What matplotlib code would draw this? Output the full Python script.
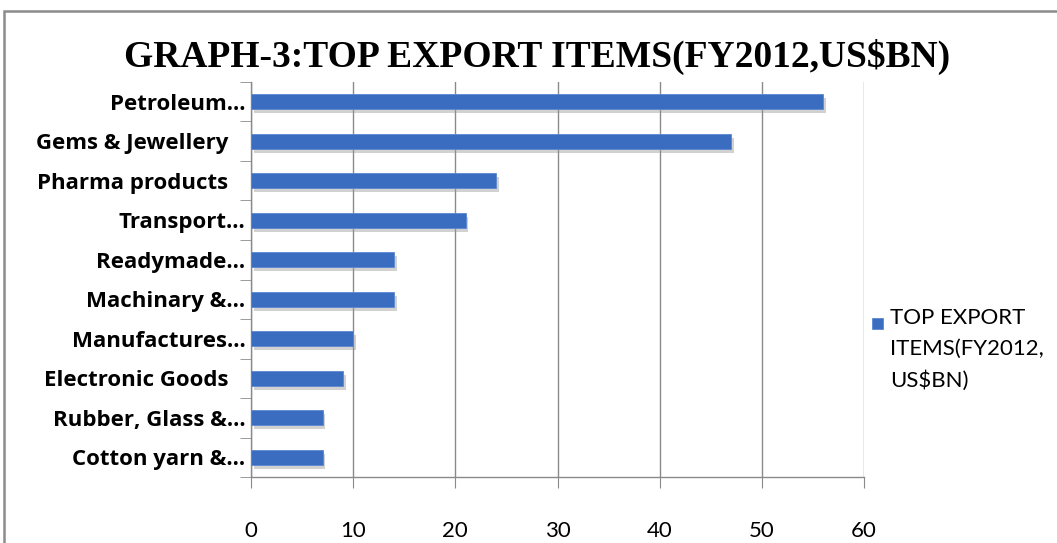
# Top export items bar chart (FY2012, US$ BN)
import matplotlib.pyplot as plt
import matplotlib.patheffects as pe
from matplotlib.patches import Rectangle
import numpy as np

# ── DATA ──────────────────────────────────────────────
items = ["Petroleum...", "Gems & Jewellery   ", "Pharma products   ", "Transport...",
         "Readymade...", "Machinary &...", "Manufactures...", "Electronic Goods   ",
         "Rubber, Glass &...", "Cotton yarn &..."]
values = [56, 47, 24, 21, 14, 14, 10, 9, 7, 7]
xticks = [0, 10, 20, 30, 40, 50, 60]
series_name = "TOP EXPORT\nITEMS(FY2012,\nUS$BN)"

bar_color = "#3a6dbf"
grid_color = "#8a8a8a"

# ── FIGURE ────────────────────────────────────────────
fig = plt.figure(figsize=(10.57, 5.43), dpi=100)

# outer chart border (only left and top visible in the crop)
fig.patches.append(Rectangle((4 / 1057, -0.05), 1.2, 1 - 11 / 543 + 0.05,
                             transform=fig.transFigure, fill=False,
                             edgecolor="#8c8c8c", linewidth=1.8))

ax = fig.add_axes([251 / 1057, 1 - 477 / 543, 613 / 1057, 395 / 543])

y = np.arange(len(items))
bars = ax.barh(y, values, height=0.38, color=bar_color, edgecolor="#5a88d0",
               linewidth=0.6, zorder=3)
for b in bars:
    b.set_path_effects([pe.SimplePatchShadow(offset=(2, -3), shadow_rgbFace="#999999", alpha=0.45),
                        pe.Normal()])

ax.set_xlim(0, 60)
ax.set_ylim(len(items) - 0.5, -0.5)
ax.set_xticks(xticks)
ax.set_xticklabels([str(t) for t in xticks], fontsize=16, family="Lato")
ax.tick_params(axis="x", length=8, color=grid_color, pad=24)

ax.set_yticks(y)
ax.set_yticklabels(items, fontsize=16, family="Open Sans", fontweight="bold")
ax.tick_params(axis="y", length=0, pad=4)
ax.set_yticks(np.arange(len(items) + 1) - 0.5, minor=True)
ax.tick_params(axis="y", which="minor", length=8, color=grid_color)

ax.grid(axis="x", color=grid_color, linewidth=1, zorder=0)
for s in ["top", "right"]:
    ax.spines[s].set_visible(False)
for s in ["left", "bottom"]:
    ax.spines[s].set_color(grid_color)
    ax.spines[s].set_linewidth(1)

fig.text(537 / 1057, 1 - 57 / 543, "GRAPH-3:TOP EXPORT ITEMS(FY2012,US$BN)",
         ha="center", va="center", fontsize=27, family="Liberation Serif",
         fontweight="bold")

# legend: square marker next to the first line of the series name
fig.patches.append(Rectangle((872 / 1057, 1 - 329 / 543), 11 / 1057, 11 / 543,
                             transform=fig.transFigure, facecolor=bar_color,
                             edgecolor="#5a88d0", linewidth=0.6))
fig.text(890 / 1057, 1 - 308 / 543, series_name, ha="left", va="top",
         fontsize=16, family="Lato", linespacing=1.68)

plt.savefig("out.png", dpi=100)
